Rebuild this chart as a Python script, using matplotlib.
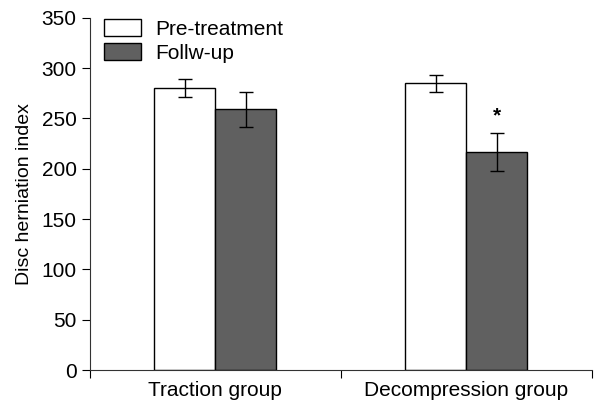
import matplotlib
matplotlib.use('Agg')
import matplotlib.pyplot as plt
import numpy as np

plt.rcParams['font.family'] = ['Liberation Sans', 'DejaVu Sans']

groups = ['Traction group', 'Decompression group']
pre = [280, 285]
pre_err = [9, 8.5]
follow = [259, 217]
follow_err = [17, 19]
ytick_vals = [0, 50, 100, 150, 200, 250, 300, 350]

fig = plt.figure(figsize=(5.95, 4.05), dpi=100)
ax = fig.add_axes([0.151, 0.086, 0.844, 0.870])

centers = np.array([0.5, 1.5])
w = 0.243
ax.bar(centers - w/2, pre, w, yerr=pre_err, color='white', edgecolor='black',
       linewidth=1, capsize=5, error_kw=dict(elinewidth=1, capthick=1), label='Pre-treatment')
ax.bar(centers + w/2, follow, w, yerr=follow_err, color='#606060', edgecolor='black',
       linewidth=1, capsize=5, error_kw=dict(elinewidth=1, capthick=1), label='Follw-up')
ax.text(centers[1] + w/2, follow[1] + follow_err[1] + 7, '*', ha='center', va='bottom',
        fontsize=15, fontweight='bold')

ax.set_xlim(0, 2)
ax.set_ylim(0, 350)
ax.set_yticks(ytick_vals)
ax.set_xticks([0, 1, 2])
ax.set_xticklabels([])
ax.set_xticks(centers, minor=True)
ax.set_xticklabels(groups, minor=True, fontsize=15)
ax.tick_params(axis='x', which='minor', length=0, pad=8)
ax.tick_params(axis='x', which='major', length=6, direction='out')
ax.tick_params(axis='y', length=6, labelsize=15)
ax.set_ylabel('Disc herniation index', fontsize=14, labelpad=6)
for s in ['top', 'right']:
    ax.spines[s].set_visible(False)
for s in ['left', 'bottom']:
    ax.spines[s].set_color('#333333')

ax.legend(loc='upper left', bbox_to_anchor=(-0.01, 1.05), frameon=False, fontsize=15,
          handlelength=1.8, handleheight=0.9, labelspacing=0.2, handletextpad=0.7)

fig.savefig('out.png', dpi=100)
